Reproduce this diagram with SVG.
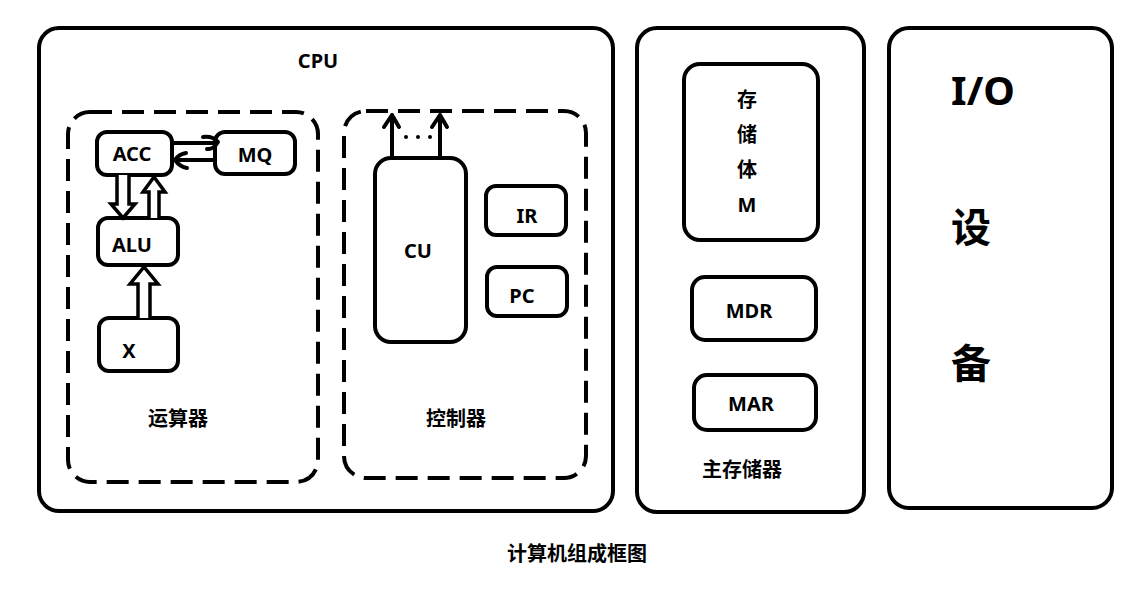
<svg xmlns="http://www.w3.org/2000/svg" width="1147" height="596" viewBox="0 0 1147 596">
<style>
.box{fill:none;stroke:#000;stroke-width:4}
.dash{fill:none;stroke:#000;stroke-width:4;stroke-dasharray:22 10}
.t{font-family:"Noto Sans","Noto Sans CJK SC",sans-serif;font-weight:bold;fill:#000;text-anchor:middle;dominant-baseline:central;font-size:20px}
.ln{fill:none;stroke:#000;stroke-width:4;stroke-linecap:round;stroke-linejoin:round}
.hol{fill:#fff;stroke:#000;stroke-width:3.5;stroke-linejoin:miter}
</style>
<rect width="1147" height="596" fill="#fff"/>
<g id="cpu"><rect class="box" x="39" y="28" width="574" height="483" rx="20"/><text class="t" x="318" y="60">CPU</text></g>
<g id="alu-unit"><rect class="dash" x="68" y="112" width="250" height="370" rx="22"/><text class="t" x="178" y="418">运算器</text></g>
<g id="ctrl-unit"><rect class="dash" x="344" y="111" width="242" height="367" rx="22"/><text class="t" x="456" y="418">控制器</text></g>
<g id="acc"><rect class="box" x="97" y="132" width="75" height="43" rx="10"/><text class="t" x="132" y="153">ACC</text></g>
<g id="mq"><rect class="box" x="215" y="132" width="80" height="42" rx="10"/><text class="t" x="255" y="154">MQ</text></g>
<g id="alu"><rect class="box" x="98" y="218" width="80" height="47" rx="10"/><text class="t" x="132" y="244">ALU</text></g>
<g id="x"><rect class="box" x="99" y="318" width="79" height="53" rx="10"/><text class="t" x="129" y="350">X</text></g>
<g id="cu"><rect class="box" x="375" y="158" width="91" height="184" rx="16"/><text class="t" x="418" y="250">CU</text></g>
<g id="ir"><rect class="box" x="486" y="186" width="80" height="49" rx="10"/><text class="t" x="527" y="215">IR</text></g>
<g id="pc"><rect class="box" x="487" y="267" width="80" height="49" rx="10"/><text class="t" x="522" y="295">PC</text></g>
<g id="memory"><rect class="box" x="637" y="28" width="227" height="484" rx="20"/><text class="t" x="742" y="469">主存储器</text></g>
<g id="bank"><rect class="box" x="684" y="64" width="134" height="176" rx="16"/>
<text class="t" x="747" y="99">存</text><text class="t" x="747" y="134">储</text><text class="t" x="747" y="169">体</text><text class="t" x="747" y="204">M</text></g>
<g id="mdr"><rect class="box" x="692" y="277" width="124" height="63" rx="13"/><text class="t" x="749" y="310">MDR</text></g>
<g id="mar"><rect class="box" x="694" y="375" width="122" height="55" rx="13"/><text class="t" x="751" y="403">MAR</text></g>
<g id="io"><rect class="box" x="889" y="28" width="223" height="480" rx="20"/>
<text class="t" x="983" y="89" style="font-size:40px">I/O</text><text class="t" x="971" y="226" style="font-size:40px">设</text><text class="t" x="971" y="362" style="font-size:40px">备</text></g>
<g id="connectors">
<path class="hol" d="M117,175 V204 H111 L123,218 L135,204 H129 V175"/>
<path class="hol" d="M149,218 V192 H143 L154,177 L165,192 H159 V218"/>
<path class="hol" d="M138,318 V284 H130 L144,267 L158,284 H150 V318"/>
<path class="ln" d="M172,143 H216"/>
<path class="ln" d="M203,137 Q213,136 218,142 Q213,150 207,149"/>
<path class="ln" d="M215,160 H174"/>
<path class="ln" d="M186,153 Q179,154 175,160 Q180,167 187,168"/>
<path class="ln" d="M392,158 V115 M384,127 L392,115 L399,127"/>
<path class="ln" d="M440,158 V115 M432,127 L440,115 L447,127"/>
<g fill="#000"><circle cx="406" cy="137" r="2"/><circle cx="418" cy="137" r="2"/><circle cx="430" cy="137" r="2"/></g>
</g>
<text class="t" x="577" y="553">计算机组成框图</text>
</svg>
